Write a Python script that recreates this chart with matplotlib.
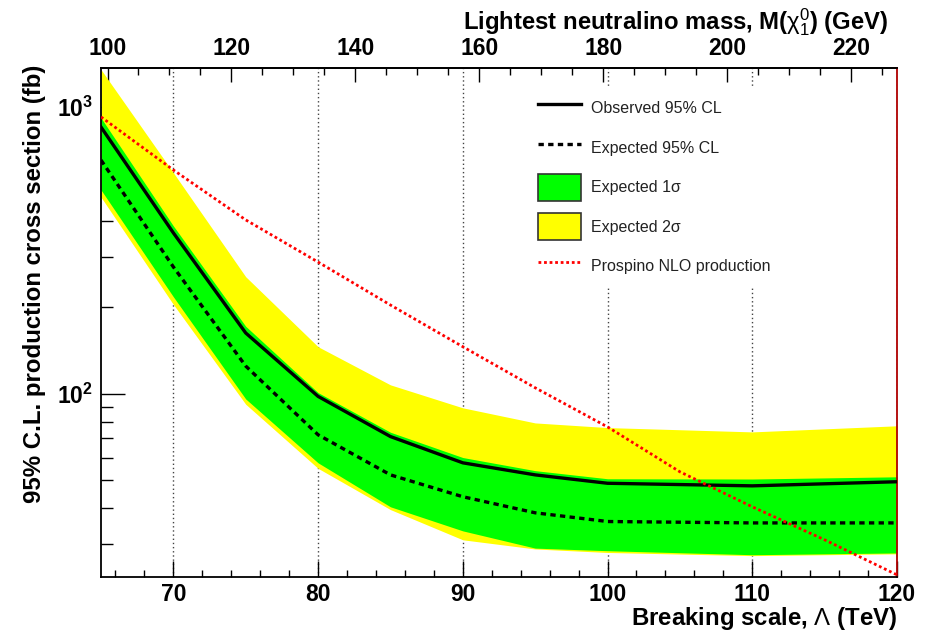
import matplotlib
matplotlib.use("Agg")
import matplotlib.pyplot as plt
from matplotlib.ticker import FixedLocator, MultipleLocator, LogLocator, NullFormatter
from matplotlib.lines import Line2D
from matplotlib.patches import Patch

plt.rcParams['font.family'] = ['Liberation Sans', 'DejaVu Sans']
plt.rcParams['mathtext.fontset'] = 'custom'
plt.rcParams['mathtext.rm'] = 'Liberation Sans'
plt.rcParams['mathtext.it'] = 'Liberation Sans:italic'
plt.rcParams['mathtext.bf'] = 'Liberation Sans:bold'

# Limits vs. breaking scale Lambda (TeV), cross sections in fb
lam = [65, 70, 75, 80, 85, 90, 95, 100, 110, 120]
observed = [851, 364, 163, 98, 71, 57.5, 52.2, 48.8, 47.8, 49.4]
expected = [653, 277, 125, 72, 52.2, 43.8, 38.5, 35.9, 35.5, 35.5]
one_sigma_lo = [514, 218, 96, 57.5, 40.4, 33.3, 29.0, 28.4, 27.5, 27.9]
one_sigma_hi = [916, 385, 172, 101, 73.5, 60.0, 54.0, 50.6, 50.5, 51.4]
two_sigma_lo = [485, 205, 92, 55, 39.5, 31.0, 28.8, 28.0, 27.3, 27.7]
two_sigma_hi = [1350, 590, 256, 146, 107.5, 89.4, 79.2, 76.3, 73.7, 77.4]

# Prospino NLO production cross section
prospino_lam = [65, 70, 75, 80, 85, 90, 95, 100, 105, 110, 115, 120]
prospino_xsec = [923, 603, 404, 288, 204, 146, 105, 76.7, 53.5, 40.4, 31.0, 23.4]

labels = ["Observed 95% CL", "Expected 95% CL", "Expected 1σ",
          "Expected 2σ", "Prospino NLO production"]

lam_ticks = [70, 80, 90, 100, 110, 120]
mass_ticks = [100, 120, 140, 160, 180, 200, 220]

# linear map of Lambda onto the lightest neutralino mass axis
LAM_RANGE = (65.0, 120.0)
MASS_RANGE = (98.95, 227.4)


def lam_to_mass(x):
    return MASS_RANGE[0] + (x - LAM_RANGE[0]) * (MASS_RANGE[1] - MASS_RANGE[0]) / (LAM_RANGE[1] - LAM_RANGE[0])


def mass_to_lam(m):
    return LAM_RANGE[0] + (m - MASS_RANGE[0]) * (LAM_RANGE[1] - LAM_RANGE[0]) / (MASS_RANGE[1] - MASS_RANGE[0])


fig = plt.figure(figsize=(9.28, 6.32), dpi=100)
ax = fig.add_axes([101 / 928, 55 / 632, 796 / 928, 509 / 632])

ax.fill_between(lam, two_sigma_lo, two_sigma_hi, color='#ffff00', lw=0, zorder=1)
ax.fill_between(lam, one_sigma_lo, one_sigma_hi, color='#00ff00', lw=0, zorder=2)
ax.plot(lam, observed, color='black', lw=2.4, zorder=3)
ax.plot(lam, expected, color='black', lw=2.4, ls=(0, (1.6, 1.3)), zorder=3)
ax.plot(prospino_lam, prospino_xsec, color='#ff0000', lw=2.0, ls=(0, (1, 1)), zorder=4)

ax.set_xlim(*LAM_RANGE)
ax.set_yscale('log')
ax.set_ylim(23.0, 1367)

ax.set_axisbelow(True)
ax.grid(axis='x', which='major', color='#444444', lw=1, ls=(0, (1, 2)))

ax.xaxis.set_major_locator(FixedLocator(lam_ticks))
ax.xaxis.set_minor_locator(MultipleLocator(2))
ax.tick_params(axis='x', which='major', direction='in', length=11.5, width=1,
               top=False, labelsize=16.5, pad=4)
ax.tick_params(axis='x', which='minor', direction='in', length=5, width=1, top=False)
for t in ax.get_xticklabels():
    t.set_fontweight('bold')

ax.yaxis.set_major_locator(FixedLocator([100, 1000]))
ax.set_yticklabels([r'$\mathbf{10^{2}}$', r'$\mathbf{10^{3}}$'])
ax.yaxis.set_minor_locator(LogLocator(base=10, subs=range(2, 10)))
ax.yaxis.set_minor_formatter(NullFormatter())
ax.tick_params(axis='y', which='major', direction='in', length=17, width=1,
               right=False, labelsize=16.5, pad=6)
ax.tick_params(axis='y', which='minor', direction='in', length=8.6, width=1, right=False)

for side in ['left', 'bottom', 'top']:
    ax.spines[side].set_linewidth(1.3)
    ax.spines[side].set_color('black')
ax.spines['right'].set_linewidth(1.3)
ax.spines['right'].set_color('#b00000')

# neutralino mass axis on top
top = ax.secondary_xaxis('top', functions=(lam_to_mass, mass_to_lam))
top.xaxis.set_major_locator(FixedLocator(mass_ticks))
top.xaxis.set_minor_locator(MultipleLocator(5))
top.tick_params(axis='x', which='major', direction='in', length=10, width=1,
                labelsize=16.5, pad=6)
top.tick_params(axis='x', which='minor', direction='in', length=5, width=1)
for t in top.get_xticklabels():
    t.set_fontweight('bold')
top.spines['top'].set_linewidth(1.3)

handles = [
    Line2D([], [], color='black', lw=2.4),
    Line2D([], [], color='black', lw=2.4, ls=(0, (1.6, 1.3))),
    Patch(facecolor='#00ff00', edgecolor='#333333', lw=1.2),
    Patch(facecolor='#ffff00', edgecolor='#333333', lw=1.2),
    Line2D([], [], color='#ff0000', lw=2.0, ls=(0, (1, 1))),
]
leg = ax.legend(handles, labels, loc='upper left',
                bbox_to_anchor=(530 / 928, 1 - 87 / 632), bbox_transform=fig.transFigure,
                frameon=True, fancybox=False, facecolor='white', edgecolor='none',
                framealpha=1, fontsize=11.5, handlelength=2.7, handleheight=2.22,
                labelspacing=0.78, handletextpad=0.6, borderpad=0.5, borderaxespad=0)
leg.set_zorder(5)
for t in leg.get_texts():
    t.set_color('#222222')

fig.text(35 / 928, 1 - 65 / 632, '95% C.L. production cross section (fb)',
         rotation=90, ha='center', va='top', fontsize=17.3, fontweight='bold')
fig.text(897 / 928, 1 - 625 / 632, r'Breaking scale, $\Lambda$ (TeV)',
         ha='right', va='baseline', fontsize=17.3, fontweight='bold')
fig.text(888 / 928, 1 - 29 / 632, r'Lightest neutralino mass, M($\mathrm{\chi}_{1}^{0}$) (GeV)',
         ha='right', va='baseline', fontsize=17.2, fontweight='bold')

fig.savefig('out.png', dpi=100)
